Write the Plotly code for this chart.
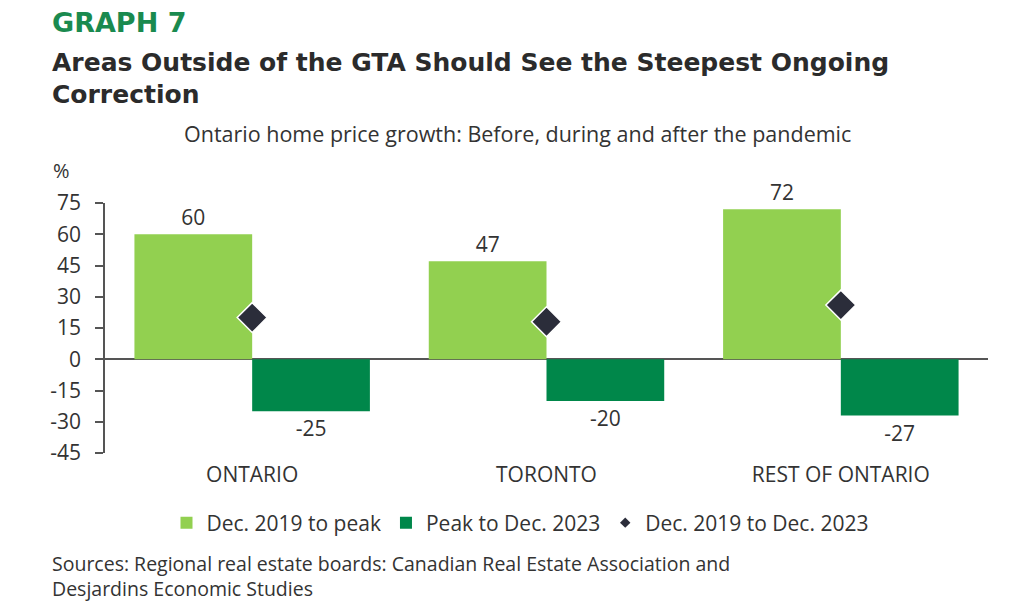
import plotly.graph_objects as go

categories = ["ONTARIO", "TORONTO", "REST OF ONTARIO"]
to_peak = [60, 47, 72]
peak_to_2023 = [-25, -20, -27]
dec19_to_dec23 = [20, 18, 26]
y_ticks = [-45, -30, -15, 0, 15, 30, 45, 60, 75]
y_ticktext = [str(v) for v in y_ticks]

LIGHT = "#92d050"
DARK = "#00874a"
DIAM = "#2b2d3a"
TXT = "#333333"
FONT = "Open Sans"

OFF = 8  # page body margin
W, H = 1014 - OFF, 616 - OFF
L, T = 105 - OFF, 203 - OFF
R = W - (988 - OFF)
B = H - (453 - OFF)
PW, PH = W - L - R, H - T - B


def px(x):
    return (x - OFF - L) / PW


def py(y):
    return (H - B - (y - OFF)) / PH


fig = go.Figure()
fig.add_trace(go.Bar(
    x=categories, y=to_peak, name="Dec. 2019 to peak",
    marker=dict(color=LIGHT, line=dict(width=0)),
    text=[str(v) for v in to_peak], textposition="outside", cliponaxis=False,
    textfont=dict(size=21, color=TXT, family=FONT),
    offsetgroup="a", showlegend=True,
))
fig.add_trace(go.Bar(
    x=categories, y=peak_to_2023, name="Peak to Dec. 2023",
    marker=dict(color=DARK, line=dict(width=0)),
    text=[str(v) for v in peak_to_2023], textposition="outside", cliponaxis=False,
    textfont=dict(size=21, color=TXT, family=FONT),
    offsetgroup="b", showlegend=True,
))
fig.add_trace(go.Scatter(
    x=categories, y=dec19_to_dec23, mode="markers",
    marker=dict(symbol="diamond", size=23, color=DIAM,
                line=dict(color="white", width=1.5)),
    showlegend=False, cliponaxis=False,
))
fig.add_trace(go.Scatter(
    x=[None], y=[None], mode="markers", name="Dec. 2019 to Dec. 2023",
    marker=dict(symbol="diamond", size=8, color=DIAM),
))

fig.update_layout(
    width=W, height=H,
    margin=dict(l=L, r=R, t=T, b=B),
    paper_bgcolor="white", plot_bgcolor="white",
    barmode="group", bargap=0.2, bargroupgap=0,
    font=dict(family=FONT, color=TXT, size=21),
    showlegend=True,
    legend=dict(orientation="h", x=px(520), xanchor="center", y=py(523), yanchor="middle",
                font=dict(size=21, family=FONT, color=TXT), traceorder="normal",
                itemwidth=30, tracegroupgap=0),
    xaxis=dict(showgrid=False, showline=False, ticks="", tickfont=dict(size=21, color=TXT),
               ticklabelstandoff=7),
    yaxis=dict(range=[-45, 75], tickvals=y_ticks, ticktext=y_ticktext, showgrid=False,
               showline=True, linecolor="#555555", linewidth=1.5,
               ticks="outside", ticklen=8, tickcolor="#555555", tickwidth=1.5,
               tickfont=dict(size=21, color=TXT), ticklabelstandoff=10,
               zeroline=True, zerolinecolor="#555555", zerolinewidth=1.5),
)

ann = [
    dict(text="<b>GRAPH 7</b>", x=px(50), y=py(22), font=dict(size=27, color="#1a8a4f", family="DejaVu Sans")),
    dict(text="<b>Areas Outside of the GTA Should See the Steepest Ongoing</b>", x=px(50), y=py(62),
         font=dict(size=25, color="#2b2b2b", family="DejaVu Sans")),
    dict(text="<b>Correction</b>", x=px(50), y=py(94), font=dict(size=25, color="#2b2b2b", family="DejaVu Sans")),
    dict(text="%", x=px(51), y=py(170), font=dict(size=20, color=TXT, family=FONT)),
    dict(text="Sources: Regional real estate boards: Canadian Real Estate Association and", x=px(50), y=py(563),
         font=dict(size=19.5, color=TXT, family=FONT)),
    dict(text="Desjardins Economic Studies", x=px(50), y=py(588), font=dict(size=19.5, color=TXT, family=FONT)),
]
for a in ann:
    fig.add_annotation(xref="paper", yref="paper", xanchor="left", yanchor="middle",
                       showarrow=False, **a)
fig.add_annotation(xref="paper", yref="paper", x=px(517), y=py(133), xanchor="center", yanchor="middle",
                   showarrow=False, text="Ontario home price growth: Before, during and after the pandemic",
                   font=dict(size=21.5, color=TXT, family=FONT))

fig.write_html("out.html")
